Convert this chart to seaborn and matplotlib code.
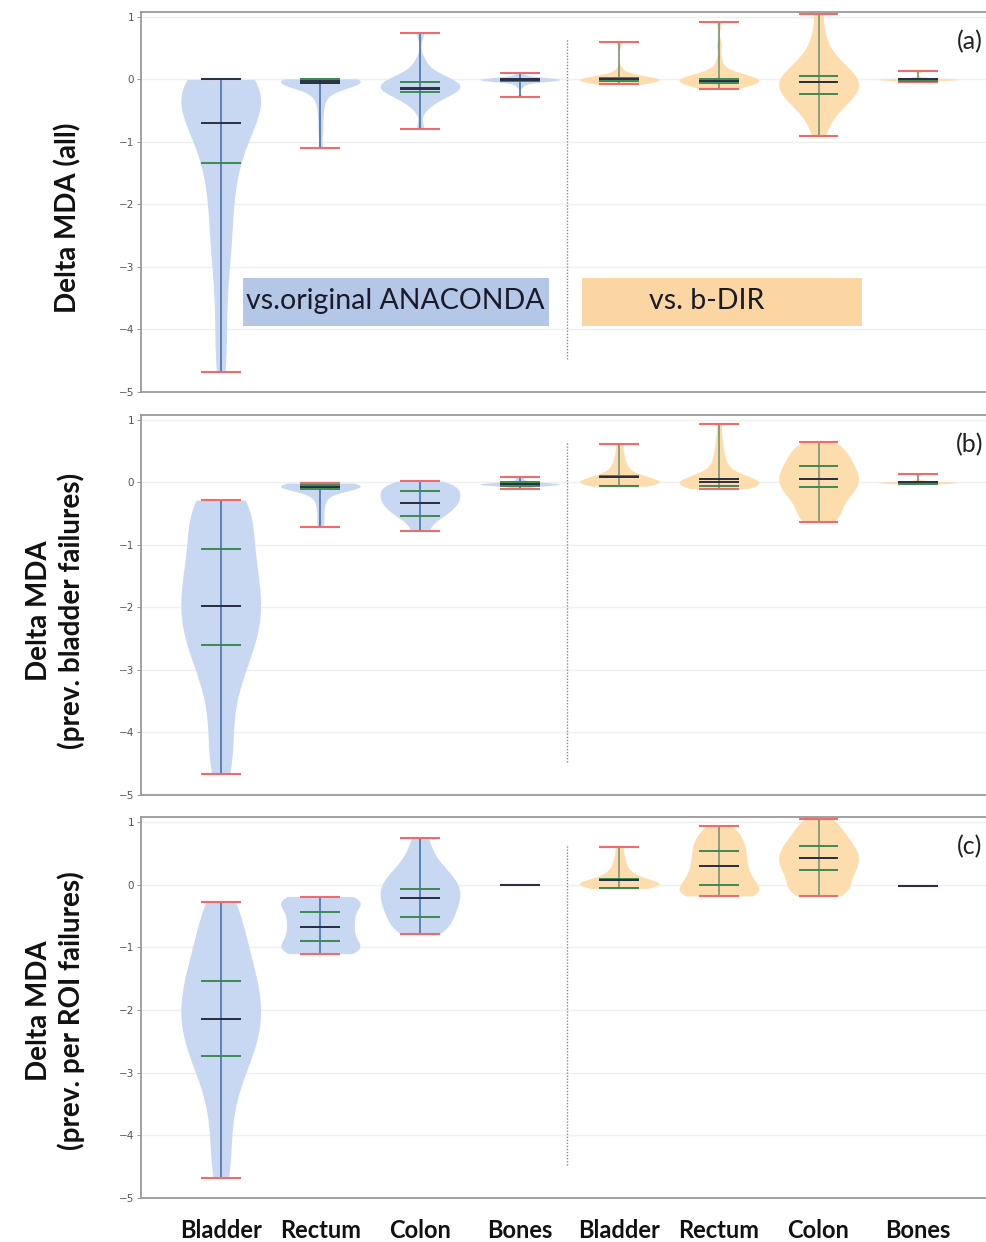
import numpy as np
import pandas as pd
import matplotlib.pyplot as plt
from matplotlib.patches import Rectangle
import seaborn as sns

# ---- data ----
organs = ["Bladder", "Rectum", "Colon", "Bones"]
ref_names = ["vs.original ANACONDA", "vs. b-DIR"]
ylabels = ["Delta MDA (all)",
           "Delta MDA\n(prev. bladder failures)",
           "Delta MDA\n(prev. per ROI failures)"]
panel_tags = ["(a)", "(b)", "(c)"]

# panel (a): all patients
all_anaconda = [
    [0, 0, 0, 0, -0.04, -0.08, -0.13, -0.18, -0.23, -0.28, -0.34, -0.4, -0.47, -0.54,
     -0.62, -0.7, -0.8, -0.9, -1.0, -1.13, -1.26, -1.45, -1.65, -1.85, -2.1, -2.35,
     -2.6, -2.85, -3.2, -3.7, -4.2, -4.68],
    [0.01, 0, 0, 0, 0, 0, -0.01, -0.01, -0.02, -0.02, -0.03, -0.03, -0.04, -0.04,
     -0.05, -0.06, -0.07, -0.09, -0.12, -0.16, -0.22, -0.3, -0.42, -0.6, -0.82, -1.09],
    [0.75, 0.3, 0.15, 0.08, 0.04, 0.01, -0.02, -0.04, -0.06, -0.08, -0.1, -0.12, -0.14,
     -0.16, -0.18, -0.2, -0.23, -0.26, -0.3, -0.36, -0.45, -0.79],
    [0.1, 0.03, 0.01, 0, 0, 0, 0, 0, 0, 0, 0, -0.01, -0.02, -0.04, -0.1, -0.28],
]
all_bdir = [
    [0.6, 0.15, 0.06, 0.03, 0.02, 0.01, 0, 0, 0, 0, 0, 0, -0.01, -0.02, -0.03, -0.04,
     -0.05, -0.08],
    [0.92, 0.55, 0.3, 0.15, 0.1, 0.07, 0.05, 0.03, 0.02, 0.01, 0.0, 0.0, -0.01, -0.02,
     -0.02, -0.03, -0.03, -0.04, -0.05, -0.06, -0.08, -0.1, -0.13, -0.16],
    [1.05, 0.75, 0.55, 0.42, 0.33, 0.26, 0.2, 0.15, 0.11, 0.07, 0.035, 0.0, -0.035,
     -0.07, -0.105, -0.14, -0.175, -0.21, -0.25, -0.29, -0.33, -0.38, -0.44, -0.51,
     -0.6, -0.72, -0.91],
    [0.13, 0.03, 0.02, 0.01, 0, 0, 0, 0, 0, 0, 0, 0, -0.01, -0.02, -0.03, -0.04],
]
# panel (b): previous bladder failures
bladder_anaconda = [
    [-0.28, -0.3, -0.38, -0.5, -0.7, -0.88, -1.05, -1.2, -1.34, -1.48, -1.61, -1.74,
     -1.86, -1.98, -2.1, -2.22, -2.34, -2.46, -2.6, -2.74, -2.94, -3.14, -3.44, -3.9,
     -4.3, -4.67],
    [-0.01, -0.02, -0.02, -0.03, -0.03, -0.04, -0.04, -0.05, -0.05, -0.06, -0.06, -0.07,
     -0.08, -0.09, -0.1, -0.12, -0.15, -0.19, -0.25, -0.33, -0.45, -0.58, -0.71],
    [0.02, -0.02, -0.06, -0.1, -0.14, -0.18, -0.22, -0.26, -0.3, -0.34, -0.38, -0.43,
     -0.48, -0.54, -0.62, -0.78],
    [0.08, 0.02, 0.0, -0.01, -0.02, -0.02, -0.03, -0.03, -0.04, -0.05, -0.06, -0.1],
]
bladder_bdir = [
    [0.61, 0.48, 0.38, 0.3, 0.24, 0.19, 0.15, 0.12, 0.1, 0.08, 0.06, 0.05, 0.04, 0.03,
     0.02, 0.01, 0.0, 0.0, -0.01, -0.02, -0.03, -0.04, -0.05, -0.06],
    [0.94, 0.7, 0.52, 0.4, 0.3, 0.22, 0.16, 0.12, 0.09, 0.07, 0.05, 0.03, 0.02, 0.01,
     0.0, -0.01, -0.02, -0.03, -0.04, -0.05, -0.06, -0.07, -0.08, -0.1],
    [0.65, 0.57, 0.49, 0.42, 0.35, 0.29, 0.23, 0.17, 0.12, 0.07, 0.02, -0.03, -0.08,
     -0.14, -0.2, -0.27, -0.36, -0.46, -0.56, -0.64],
    [0.13, 0.03, 0.01, 0, 0, 0, 0, 0, 0, 0, 0, -0.01, -0.02, -0.03],
]
# panel (c): previous per-ROI failures
roi_anaconda = [
    [-0.28, -0.45, -0.7, -0.92, -1.1, -1.27, -1.42, -1.56, -1.69, -1.81, -1.93, -2.05,
     -2.17, -2.29, -2.41, -2.54, -2.68, -2.84, -3.03, -3.3, -3.7, -4.2, -4.68],
    [-0.19, -0.2, -0.22, -0.26, -0.31, -0.37, -0.43, -0.49, -0.55, -0.61, -0.67, -0.73,
     -0.79, -0.85, -0.91, -0.97, -1.02, -1.06, -1.08, -1.1],
    [0.75, 0.55, 0.4, 0.3, 0.22, 0.15, 0.09, 0.04, -0.01, -0.06, -0.11, -0.16, -0.21,
     -0.26, -0.31, -0.36, -0.42, -0.48, -0.54, -0.6, -0.67, -0.74, -0.79],
    [0.0, 0.0, 0.0, 0.0, 0.0],
]
roi_bdir = [
    [0.6, 0.47, 0.37, 0.29, 0.23, 0.18, 0.14, 0.11, 0.09, 0.07, 0.05, 0.04, 0.03, 0.02,
     0.01, 0.0, -0.01, -0.02, -0.03, -0.04, -0.05, -0.06],
    [0.93, 0.85, 0.77, 0.7, 0.64, 0.58, 0.52, 0.46, 0.4, 0.34, 0.28, 0.22, 0.17, 0.12,
     0.07, 0.02, -0.03, -0.07, -0.11, -0.14, -0.16, -0.18, -0.18],
    [1.05, 0.95, 0.86, 0.78, 0.71, 0.65, 0.59, 0.54, 0.49, 0.44, 0.39, 0.34, 0.29,
     0.24, 0.18, 0.12, 0.05, -0.02, -0.09, -0.14, -0.18],
    [-0.02, -0.02, -0.02, -0.02, -0.02],
]

# summary lines as drawn in the figure (8 violins per panel)
q1_a = [-1.33, -0.06, -0.2, -0.02, -0.03, -0.05, -0.24, -0.02]
med_a = [0.0, -0.03, -0.14, 0.0, 0.0, -0.02, -0.04, 0.0]
q3_a = [0.0, 0.0, -0.04, 0.01, 0.02, 0.0, 0.05, 0.01]
mean_a = [-0.7, -0.06, -0.15, -0.01, 0.01, -0.02, -0.04, 0.0]

q1_b = [-2.6, -0.1, -0.53, -0.05, -0.05, -0.06, -0.08, -0.02]
med_b = [-1.98, -0.08, -0.33, -0.02, 0.08, 0.0, 0.06, 0.0]
q3_b = [-1.07, -0.04, -0.14, 0.0, 0.11, 0.06, 0.27, 0.01]
mean_b = [-1.98, -0.08, -0.33, -0.02, 0.08, 0.06, 0.06, 0.0]

q1_c = [-2.74, -0.9, -0.51, 0.0, -0.05, -0.01, 0.23, -0.02]
med_c = [-2.14, -0.67, -0.22, 0.0, 0.08, 0.3, 0.42, -0.02]
q3_c = [-1.53, -0.44, -0.07, 0.0, 0.09, 0.54, 0.61, -0.02]
mean_c = [-2.14, -0.67, -0.22, 0.0, 0.08, 0.3, 0.42, -0.02]

panels = [
    (all_anaconda + all_bdir, q1_a, med_a, q3_a, mean_a),
    (bladder_anaconda + bladder_bdir, q1_b, med_b, q3_b, mean_b),
    (roi_anaconda + roi_bdir, q1_c, med_c, q3_c, mean_c),
]

# ---- style ----
sns.set_theme(style="white")
plt.rcParams['font.family'] = ['DejaVu Sans']
fill_cols = {ref_names[0]: "#c8d8f3", ref_names[1]: "#fddcad"}
bar_cols = ["#3e6a9c", "#6f8d6c"]
cap_col = "#f06b6b"
quart_col = "#3b8a52"
mid_col = "#2b3045"
label_font = "Lato"

fig = plt.figure(figsize=(9.86, 12.42), dpi=100)
boxes = [[0.143, 0.6844, 0.862, 0.306],
         [0.143, 0.3599, 0.862, 0.306],
         [0.143, 0.0354, 0.862, 0.3068]]

for k, (groups, q1, med, q3, mean) in enumerate(panels):
    ax = fig.add_axes(boxes[k])
    rows = []
    for i, vals in enumerate(groups):
        for v in vals:
            rows.append((i, v, ref_names[i // 4]))
    df = pd.DataFrame(rows, columns=["organ", "delta", "ref"])
    # constant groups have no density -> only their summary lines are drawn
    spread = df.groupby("organ")["delta"].transform(lambda s: s.max() - s.min())
    sns.violinplot(data=df[spread > 0], x="organ", y="delta", hue="ref",
                   order=list(range(8)), hue_order=ref_names, palette=fill_cols,
                   dodge=False, cut=0, inner=None, density_norm="width",
                   width=0.8, linewidth=0, saturation=1, bw_adjust=0.7,
                   legend=False, ax=ax)

    for i, vals in enumerate(groups):
        lo, hi = min(vals), max(vals)
        ax.vlines(i, lo, hi, color=bar_cols[i // 4], lw=1.1, zorder=3)
        ax.hlines([lo, hi], i - 0.2, i + 0.2, color=cap_col, lw=1.5, zorder=4)
        ax.hlines([q1[i], q3[i]], i - 0.2, i + 0.2, color=quart_col, lw=1.4, zorder=5)
        ax.hlines([mean[i], med[i]], i - 0.2, i + 0.2, color=mid_col, lw=1.4, zorder=6)

    ax.vlines(3.48, -4.48, 0.65, color="#8a8a8a", lw=1, linestyles=(0, (1, 1.2)))

    ax.set_xlim(-0.8, 7.73)
    ax.set_ylim(-5, 1.08)
    ax.set_yticks(range(-5, 2))
    ax.yaxis.grid(True, color="#efefef", lw=1)
    ax.set_axisbelow(True)
    ax.set_xlabel("")
    ax.set_ylabel("")
    for side in ["left", "top", "bottom"]:
        ax.spines[side].set_color("#9a9a9a")
        ax.spines[side].set_linewidth(1.3)
    ax.spines["right"].set_visible(False)
    ax.tick_params(axis="y", labelsize=7.5, labelcolor="#555555", color="#9a9a9a",
                   length=3, width=0.8, left=True, pad=2)
    ax.tick_params(axis="x", length=0)
    if k < 2:
        ax.set_xticklabels([])
    else:
        ax.set_xticks(range(8))
        ax.set_xticklabels(organs * 2, fontsize=17, fontweight="bold",
                           family=label_font, color="#111111")
        ax.tick_params(axis="x", pad=15)

    ax.text(7.52, 0.6, panel_tags[k], fontsize=18, family=label_font,
            ha="center", va="center", color="#222222")

    if k == 0:
        ax.add_patch(Rectangle((0.22, -3.94), 3.07, 0.77, facecolor="#b4c7e7",
                               edgecolor="none", zorder=1))
        ax.add_patch(Rectangle((3.63, -3.94), 2.81, 0.77, facecolor="#fbd6a2",
                               edgecolor="none", zorder=1))
        ax.text(1.755, -3.55, ref_names[0], fontsize=20.5, family=label_font,
                ha="center", va="center", color="#1a1a2a", zorder=2)
        ax.text(4.88, -3.55, ref_names[1], fontsize=20.5, family=label_font,
                ha="center", va="center", color="#1a1a2a", zorder=2)

label_y = [0.825, 0.508, 0.186]
label_x = [0.069, 0.056, 0.056]
for k in range(3):
    fig.text(label_x[k], label_y[k], ylabels[k], rotation=90, ha="center",
             va="center", multialignment="center", fontsize=20, fontweight="bold",
             family=label_font, linespacing=1.25, color="#111111")

fig.savefig("out.png", dpi=100)
